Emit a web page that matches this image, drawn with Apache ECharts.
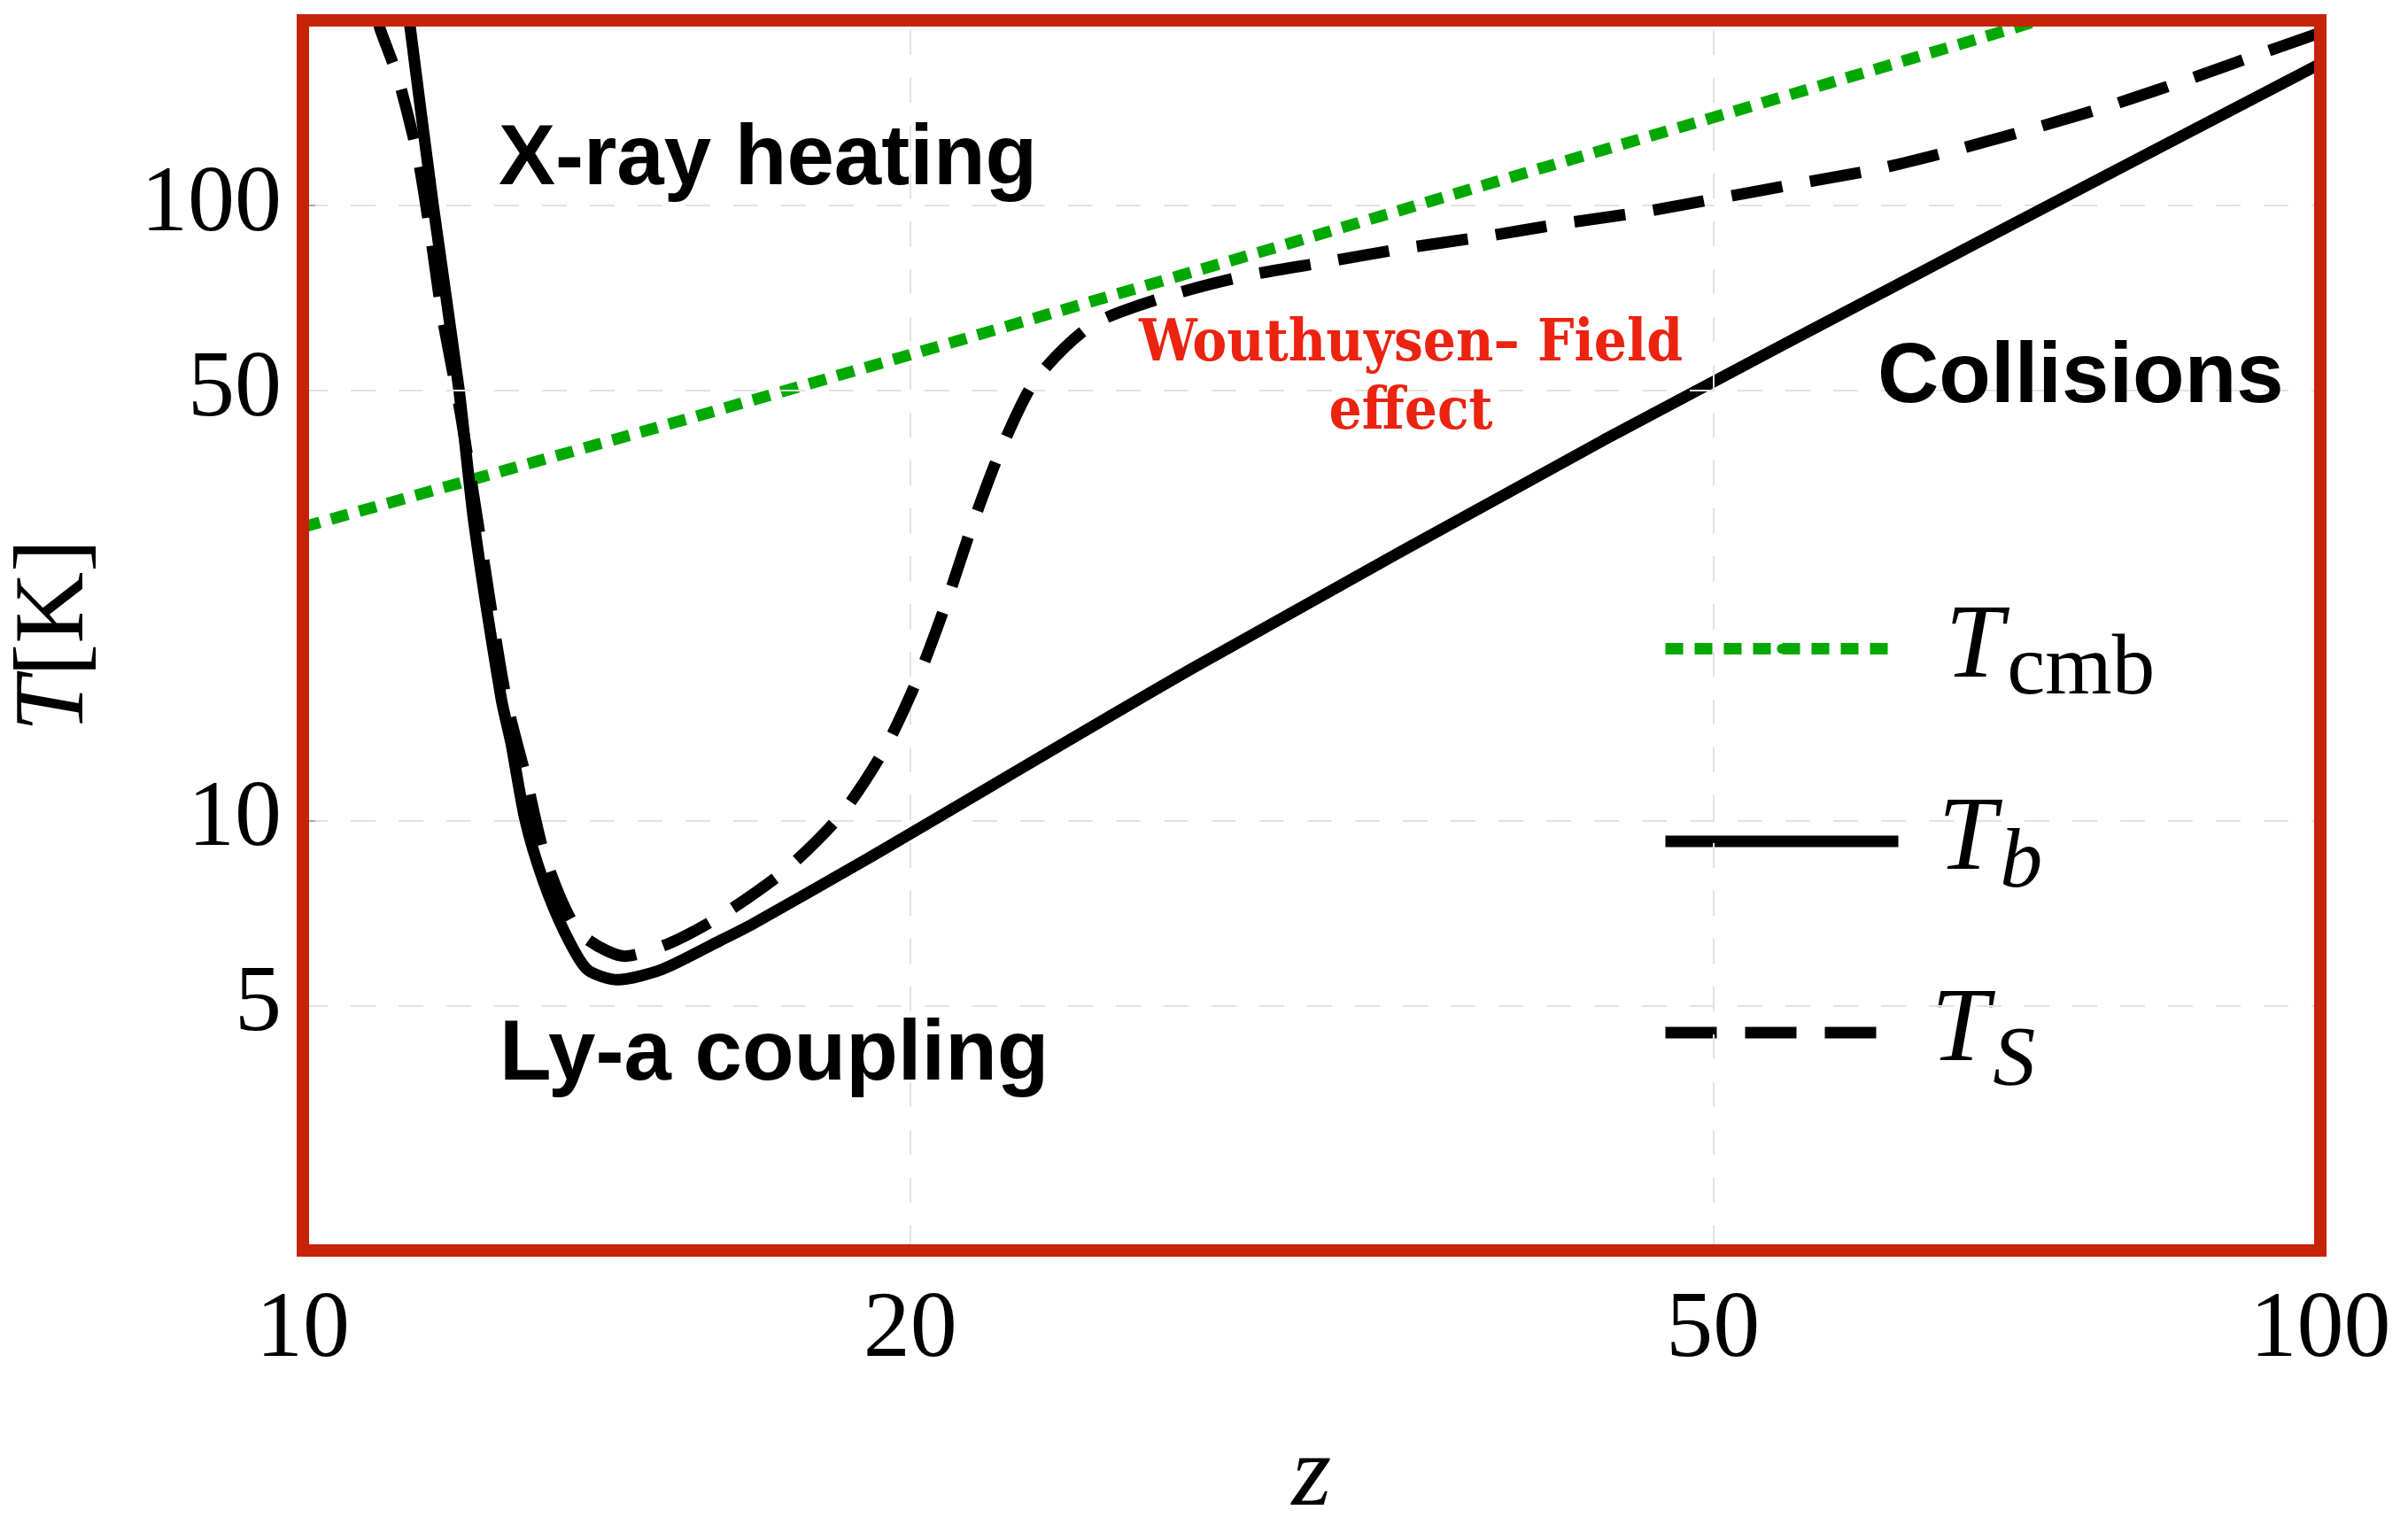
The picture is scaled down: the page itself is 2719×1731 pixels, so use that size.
<!DOCTYPE html>
<html><head><meta charset="utf-8">
<script src="https://cdn.jsdelivr.net/npm/echarts@6/dist/echarts.min.js"></script>
<style>html,body{margin:0;padding:0;background:#fff}#c{width:2719px;height:1731px}</style>
</head><body><div id="c"></div>
<script>
// ---- data ----
const xTickLabels = [10, 20, 50, 100];
const yTickLabels = [5, 10, 50, 100];

const zCmb = [10, 15, 20, 30, 40, 50, 60, 70, 80];
const tCmb = [30, 43.6, 57.2, 84.5, 112, 139, 166, 193, 221];

const zB = [11.28, 11.6, 11.95, 12.16, 12.54, 12.68, 12.89, 13.15, 13.48, 13.83, 14.32, 15.07, 16.1, 16.71, 19.05, 27.7, 44.1, 66.7, 100];
const tB = [205, 100.7, 50.2, 30.3, 15.8, 13.4, 10.0, 8.02, 6.59, 5.73, 5.51, 5.73, 6.38, 6.79, 8.67, 17.8, 41.5, 85, 170];

const zS = [10.88, 10.92, 11.15, 11.4, 11.57, 11.72, 11.97, 12.22, 12.6, 12.91, 13.2, 13.7, 14.44, 15.2, 16.08, 17.34, 18.49, 19.43, 20.2, 20.85, 21.46, 22.16, 23.07, 24.6, 26.85, 29.3, 32.1, 35.16, 38.5, 42.17, 46.2, 50.6, 55.4, 60.6, 66.3, 72.5, 79.2, 86.4, 94.2, 100];
const tS = [205, 194, 160.7, 120.1, 89.2, 66.5, 46, 30, 16, 11.63, 8.62, 6.6, 6.02, 6.32, 6.97, 8.30, 10.24, 13.1, 17.2, 22.7, 30.1, 39.8, 52.0, 63.9, 71.3, 76.8, 80.9, 85.2, 89.0, 93.5, 97.7, 103.1, 108.9, 115.0, 123.7, 134.2, 146.4, 161.2, 178.3, 191];

const seriesNames = ['Tcmb', 'Tb', 'TS'];
const legendText = {Tcmb: '{Tc|T}{sc|cmb}', Tb: '{Tb|T}{sb|b}', TS: '{Ts|T}{ss|S}'};
const annotations = ['X-ray heating', 'Ly-a coupling', 'Collisions', 'Wouthuysen\u2013 Field\neffect'];

// ---- styling ----
const RED = '#c62408';
const GREEN = '#00a800';
const SERIF = '"Liberation Serif", "Times New Roman", serif';
const GRID_LINE = {color: '#e2e2e2', width: 2, type: [28, 26]};
const pair = (zs, ts) => zs.map((z, i) => [z, ts[i]]);
const isPow10 = v => Math.abs(Math.log10(v) - Math.round(Math.log10(v))) < 1e-9;
const inList = (list, v) => list.some(t => Math.abs(t - v) < 1e-6 * t);

const legendTops = [659, 876, 1084];
const Tstyle = pl => ({fontFamily: SERIF, fontStyle: 'italic', fontSize: 118, lineHeight: 140, color: '#000', padding: [0, 4, 0, pl]});
const richLegend = {
  Tc: Tstyle(48), Tb: Tstyle(40), Ts: Tstyle(32),
  sc: {fontFamily: SERIF, fontSize: 97, lineHeight: 140, color: '#000', padding: [50, 0, 0, 0]},
  sb: {fontFamily: SERIF, fontStyle: 'italic', fontSize: 96, lineHeight: 140, color: '#000', padding: [52, 0, 0, 0]},
  ss: {fontFamily: SERIF, fontStyle: 'italic', fontSize: 96, lineHeight: 140, color: '#000', padding: [68, 0, 0, 0]}
};

const chart = echarts.init(document.getElementById('c'), null, {renderer: 'canvas'});
const option = {
  animation: false,
  backgroundColor: '#fff',
  grid: {left: 342, right: 99, top: 23, bottom: 299, show: true, borderColor: RED, borderWidth: 14, backgroundColor: 'transparent', z: 10},
  xAxis: {
    type: 'log', logBase: 10, min: 10, max: 100,
    axisLine: {show: false}, axisTick: {show: false}, splitLine: {show: false},
    axisLabel: {formatter: v => inList(xTickLabels, v) ? String(Math.round(v)) : '', fontFamily: SERIF, fontSize: 106, color: '#000', margin: 38, showMinLabel: true, showMaxLabel: true},
    name: 'z', nameLocation: 'middle', nameGap: 199,
    nameTextStyle: {fontFamily: SERIF, fontStyle: 'italic', fontSize: 115, color: '#000'}
  },
  yAxis: {
    type: 'log', logBase: 10, min: 2, max: 200,
    axisLine: {show: false},
    axisTick: {show: true, inside: true, length: 14, lineStyle: {color: '#aaa', width: 2}},
    splitLine: {show: true, lineStyle: GRID_LINE},
    axisLabel: {formatter: v => inList(yTickLabels, v) ? String(Math.round(v)) : '', fontFamily: SERIF, fontSize: 106, color: '#000', margin: 24, showMinLabel: true, showMaxLabel: true},
    name: '{i|T}{r|[K]}', nameLocation: 'middle', nameGap: 222,
    nameTextStyle: {rich: {
      i: {fontFamily: SERIF, fontStyle: 'italic', fontSize: 112, color: '#000'},
      r: {fontFamily: SERIF, fontSize: 112, color: '#000'}
    }}
  },
  legend: seriesNames.map((n, i) => ({
    data: [n], orient: 'vertical', left: 1874, top: legendTops[i], padding: 0,
    itemWidth: 263, itemHeight: 14, selectedMode: false,
    lineStyle: {width: 13},
    formatter: name => legendText[name],
    textStyle: {color: '#000', rich: richLegend}
  })),
  graphic: [
    {type: 'text', x: 563, y: 182, z: 20, style: {text: annotations[0], font: 'bold 96px "Liberation Sans", Arial, sans-serif', fill: '#000', align: 'left', verticalAlign: 'middle'}},
    {type: 'text', x: 564, y: 1193, z: 20, style: {text: annotations[1], font: 'bold 96px "Liberation Sans", Arial, sans-serif', fill: '#000', align: 'left', verticalAlign: 'middle'}},
    {type: 'text', x: 2120, y: 428, z: 20, style: {text: annotations[2], font: 'bold 96px "Liberation Sans", Arial, sans-serif', fill: '#000', align: 'left', verticalAlign: 'middle'}},
    {type: 'text', x: 1593, y: 429, z: 20, style: {text: annotations[3], font: 'bold 65px "DejaVu Serif Condensed", "DejaVu Serif", serif', fill: '#eb2310', align: 'center', verticalAlign: 'middle', lineHeight: 77}}
  ],
  series: [
    {
      name: 'gridhelper', type: 'line', data: [], z: 1, silent: true,
      markLine: {
        silent: true, symbol: ['none', 'none'], animation: false,
        lineStyle: GRID_LINE,
        label: {show: true, position: 'start', formatter: p => String(p.value), fontFamily: SERIF, fontSize: 106, color: '#000', distance: [24, 38]},
        data: [
          ...xTickLabels.filter(v => !isPow10(v)).map(v => ({xAxis: v})),
          ...yTickLabels.filter(v => !isPow10(v)).map(v => ({yAxis: v}))
        ]
      }
    },
    {name: 'Tcmb', type: 'line', data: pair(zCmb, tCmb), symbol: 'none', z: 3,
      lineStyle: {color: GREEN, width: 13, type: [20, 13], cap: 'butt'}, itemStyle: {color: GREEN}},
    {name: 'Tb', type: 'line', data: pair(zB, tB), symbol: 'none', z: 4, smooth: 0.25,
      lineStyle: {color: '#000', width: 13}, itemStyle: {color: '#000'}},
    {name: 'TS', type: 'line', data: pair(zS, tS), symbol: 'none', z: 5, smooth: 0.25,
      lineStyle: {color: '#000', width: 13, type: [58, 32], cap: 'butt'}, itemStyle: {color: '#000'}}
  ]
};
chart.setOption(option);
</script></body></html>
